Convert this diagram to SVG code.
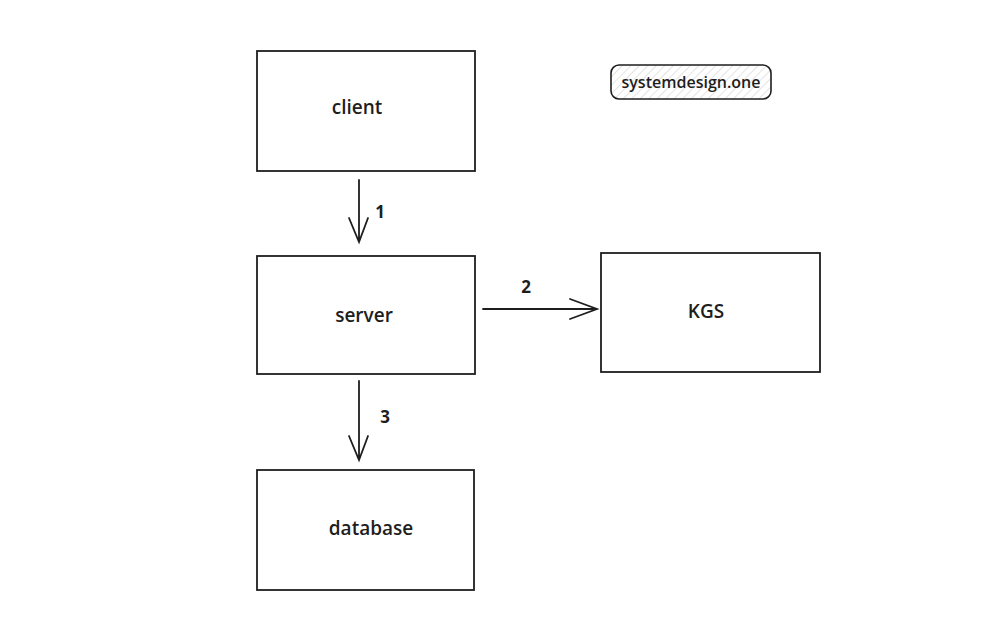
<svg xmlns="http://www.w3.org/2000/svg" width="999" height="631" viewBox="0 0 999 631">
<style>
.box{fill:#fff;stroke:#1e1e1e;stroke-width:1.8}
.lbl{font-family:"Open Sans","Liberation Sans",sans-serif;font-size:19px;font-weight:600;fill:#1e1e1e;text-anchor:middle;dominant-baseline:central}
.num{font-family:"Open Sans","Liberation Sans",sans-serif;font-size:17px;font-weight:700;fill:#1e1e1e;text-anchor:middle;dominant-baseline:central}
.edge{stroke:#1e1e1e;stroke-width:1.8;fill:none;stroke-linecap:round}
</style>
<defs>
<pattern id="hatch" width="6" height="6" patternUnits="userSpaceOnUse" patternTransform="rotate(45)">
<line x1="0" y1="0" x2="0" y2="6" stroke="#c8c8c8" stroke-width="1"/>
</pattern>
</defs>
<rect width="999" height="631" fill="#fff"/>
<g id="client"><rect class="box" x="257" y="51" width="218" height="120"/><text class="lbl" x="357" y="107">client</text></g>
<g id="server"><rect class="box" x="257" y="256" width="218" height="118"/><text class="lbl" x="364" y="315">server</text></g>
<g id="database"><rect class="box" x="257" y="470" width="217" height="120"/><text class="lbl" x="371" y="528">database</text></g>
<g id="kgs"><rect class="box" x="601" y="253" width="219" height="119"/><text class="lbl" x="706" y="311">KGS</text></g>
<g id="badge"><rect x="611" y="65" width="160" height="34" rx="8" fill="url(#hatch)" stroke="#1e1e1e" stroke-width="1.6"/><text class="lbl" x="691" y="82" style="font-size:16px">systemdesign.one</text></g>
<g id="connectors">
<path class="edge" d="M359 180 L359 242 M349 218 L359 242 L368 218"/>
<text class="num" x="380" y="211">1</text>
<path class="edge" d="M483 309 L597 309 M570 299 L597 309 L570 319"/>
<text class="num" x="526" y="286">2</text>
<path class="edge" d="M359 381 L359 460 M349 436 L359 460 L368 436"/>
<text class="num" x="385" y="416">3</text>
</g>
</svg>
